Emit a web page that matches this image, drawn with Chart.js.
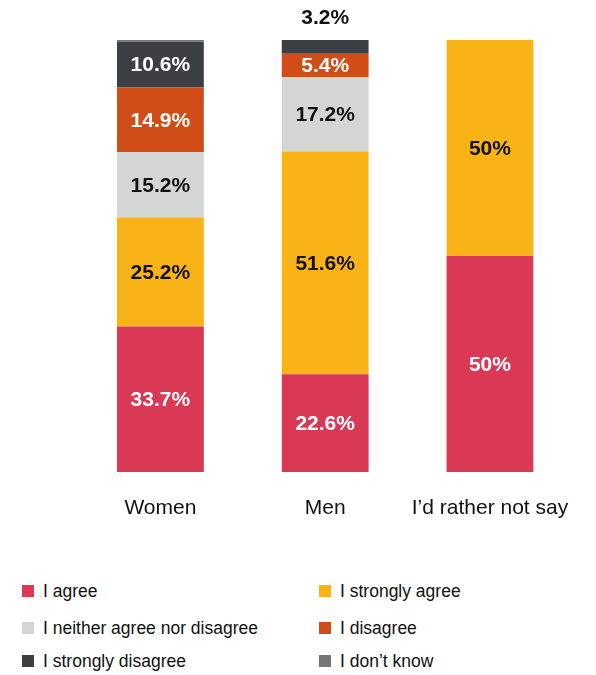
<!DOCTYPE html>
<html>
<head>
<meta charset="utf-8">
<script src="https://cdn.jsdelivr.net/npm/chart.js@4/dist/chart.umd.min.js"></script>
<style>
  body { margin: 0; background: #fff; font-family: "Liberation Sans", Arial, sans-serif; }
  #wrap { position: relative; width: 596px; height: 675px; }
  #chart { position: absolute; left: 0; top: 0; }
  .legend { position: absolute; left: 0; top: 0; width: 596px; }
  .legend-item { position: absolute; font-size: 17.5px; color: #111; white-space: nowrap; line-height: 20px; }
  .legend-item span.box { position: absolute; left: -21px; top: 4px; width: 12px; height: 12px; }
</style>
</head>
<body>
<div id="wrap">
  <canvas id="chart" width="596" height="540"></canvas>
  <div class="legend" id="legend"></div>
</div>
<script>
// categories and answers
const categories = ['Women', 'Men', 'I\u2019d rather not say'];

const agree = [33.7, 22.6, 50];
const stronglyAgree = [25.2, 51.6, 50];
const neither = [15.2, 17.2, 0];
const disagree = [14.9, 5.4, 0];
const stronglyDisagree = [10.6, 3.2, 0];
const dontKnow = [0.4, 0, 0];

const seriesNames = [
  'I agree', 'I strongly agree', 'I neither agree nor disagree',
  'I disagree', 'I strongly disagree', 'I don\u2019t know'
];
const seriesColors = ['#d93955', '#f9b316', '#d4d5d5', '#d04d17', '#3c3f43', '#747679'];
const labelColors = ['#fff', '#111', '#111', '#fff', '#fff', '#fff'];
const seriesValues = [agree, stronglyAgree, neither, disagree, stronglyDisagree, dontKnow];


// value labels inside each segment, small ones go above the bar
const segmentLabels = {
  id: 'segmentLabels',
  afterDatasetsDraw(chart) {
    const ctx = chart.ctx;
    ctx.save();
    ctx.font = 'bold 21px "Liberation Sans", Arial, sans-serif';
    ctx.textAlign = 'center';
    ctx.textBaseline = 'middle';
    chart.data.datasets.forEach((ds, i) => {
      const meta = chart.getDatasetMeta(i);
      meta.data.forEach((bar, j) => {
        const v = ds.data[j];
        if (!v || v < 1) return;
        const text = v + '%';
        if (v < 4) {
          ctx.fillStyle = '#111';
          ctx.fillText(text, bar.x, bar.y - 22);
        } else {
          ctx.fillStyle = labelColors[i];
          ctx.fillText(text, bar.x, (bar.y + bar.base) / 2 + 1);
        }
      });
    });
    ctx.restore();
  }
};


const chart = new Chart(document.getElementById('chart'), {
  type: 'bar',
  data: {
    labels: categories,
    datasets: seriesNames.map((name, i) => ({
      label: name,
      data: seriesValues[i],
      backgroundColor: seriesColors[i],
      borderWidth: 0,
      barPercentage: 0.527,
      categoryPercentage: 1.0
    }))
  },
  options: {
    responsive: false,
    animation: false,
    layout: { padding: { left: 78, right: 23, top: 40, bottom: 8 } },
    plugins: {
      legend: { display: false },
      tooltip: { enabled: false }
    },
    scales: {
      x: {
        stacked: true,
        grid: { display: false, drawTicks: false },
        border: { display: false },
        ticks: {
          color: '#111',
          padding: 24,
          font: { size: 21, family: '"Liberation Sans", Arial, sans-serif' }
        },
        afterFit(scale) { scale.height = 60; }
      },
      y: {
        stacked: true,
        display: false,
        min: 0,
        max: 100
      }
    }
  },
  plugins: [segmentLabels]
});


// two-column legend under the chart
const legend = document.getElementById('legend');
const rowTops = [581, 618, 651];
seriesNames.forEach((name, i) => {
  const item = document.createElement('div');
  item.className = 'legend-item';
  item.style.left = (i % 2 === 0 ? 43 : 340) + 'px';
  item.style.top = rowTops[Math.floor(i / 2)] + 'px';
  item.innerHTML = '<span class="box" style="background:' + seriesColors[i] + '"></span>' + name;
  legend.appendChild(item);
});
</script>
</body>
</html>
